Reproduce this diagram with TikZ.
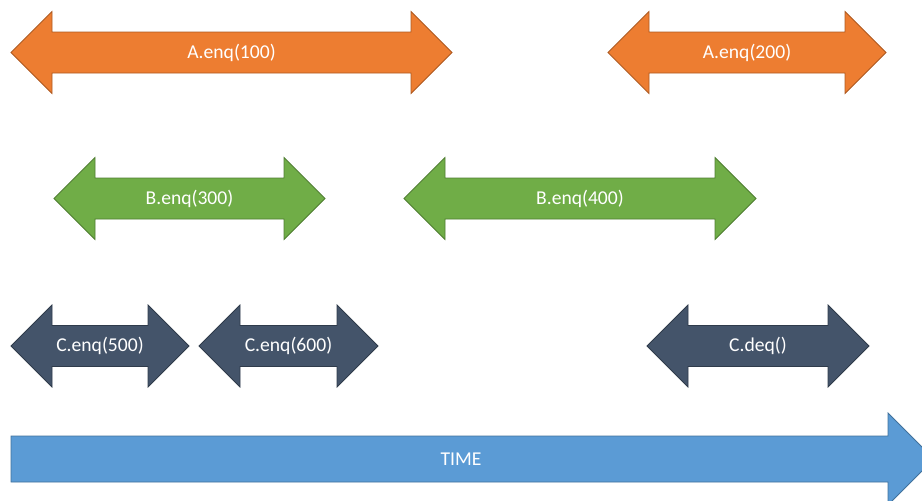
\documentclass[tikz,border=0pt]{standalone}
\usepackage{fontspec}
\setmainfont{Carlito}
\definecolor{orfill}{HTML}{ED7D31}
\definecolor{ordraw}{HTML}{AE5A21}
\definecolor{grfill}{HTML}{70AD47}
\definecolor{grdraw}{HTML}{507E32}
\definecolor{dkfill}{HTML}{44546A}
\definecolor{dkdraw}{HTML}{2F3B4B}
\definecolor{blfill}{HTML}{5B9BD5}
\definecolor{bldraw}{HTML}{41719C}
\tikzset{
  orarrow/.style={fill=orfill,draw=ordraw,line width=0.8pt,line join=miter},
  grarrow/.style={fill=grfill,draw=grdraw,line width=0.8pt,line join=miter},
  dkarrow/.style={fill=dkfill,draw=dkdraw,line width=0.8pt,line join=miter},
  blarrow/.style={fill=blfill,draw=bldraw,line width=0.8pt,line join=miter},
  lbl/.style={text=white,font=\fontsize{19.6}{23}\selectfont,inner sep=0pt}
}
% #1 style, #2 left tip x, #3 right tip x, #4 centre y, #5 node name, #6 text
\newcommand\dblarr[6]{%
  \draw[#1] (#2,#4) -- (#2+41,#4-41) -- (#2+41,#4-20.5) -- (#3-41,#4-20.5)
    -- (#3-41,#4-41) -- (#3,#4) -- (#3-41,#4+41) -- (#3-41,#4+20.5)
    -- (#2+41,#4+20.5) -- (#2+41,#4+41) -- cycle;
  \node[lbl] (#5) at ({(#2+#3)/2},#4) {#6};}
\begin{document}
\begin{tikzpicture}[x=1pt,y=-1pt]
\useasboundingbox (0,0) rectangle (922,501);
\clip (0,0) rectangle (922,501);
\dblarr{orarrow}{11}{452}{52.5}{a1}{A.enq(100)}
\dblarr{orarrow}{608}{886}{52.5}{a2}{A.enq(200)}
\dblarr{grarrow}{54}{325}{198.5}{b1}{B.enq(300)}
\dblarr{grarrow}{404}{756}{198.5}{b2}{B.enq(400)}
\dblarr{dkarrow}{11}{189}{346}{c1}{C.enq(500)}
\dblarr{dkarrow}{199}{378}{346}{c2}{C.enq(600)}
\dblarr{dkarrow}{647}{869}{346}{c3}{C.deq()}
\draw[blarrow] (11,436) -- (888,436) -- (888,413) -- (934,459) -- (888,505)
  -- (888,482) -- (11,482) -- cycle;
\node[lbl] (time) at (461,459) {TIME};
\end{tikzpicture}
\end{document}
